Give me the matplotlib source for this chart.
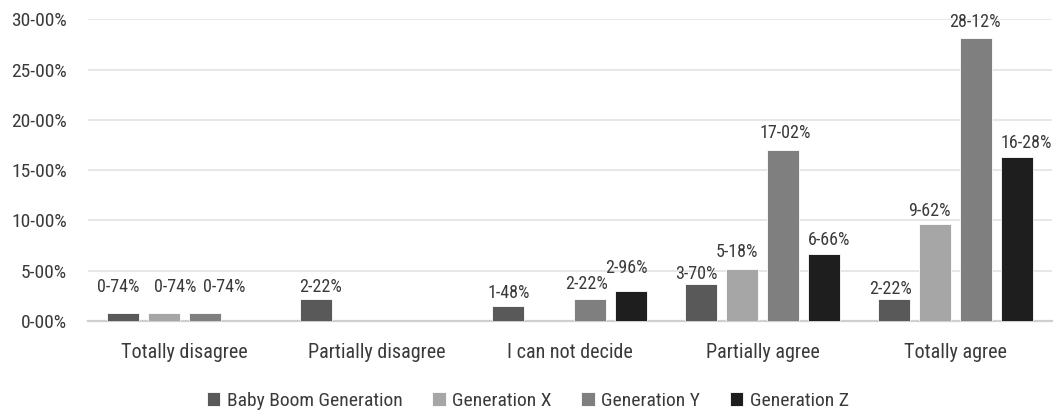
import numpy as np
import matplotlib
matplotlib.use("Agg")
import matplotlib.pyplot as plt
from matplotlib import font_manager

# data (percent of respondents)
categories = ["Totally disagree", "Partially disagree", "I can not decide",
              "Partially agree", "Totally agree"]
series_names = ["Baby Boom Generation", "Generation X", "Generation Y", "Generation Z"]
baby_boom = [0.74, 2.22, 1.48, 3.70, 2.22]
gen_x = [0.74, None, None, 5.18, 9.62]
gen_y = [0.74, None, 2.22, 17.02, 28.12]
gen_z = [None, None, 2.96, 6.66, 16.28]
y_ticks = [0, 5, 10, 15, 20, 25, 30]

colors = ["#595959", "#a6a6a6", "#7f7f7f", "#1e1e1e"]
text_color = "#3a3a3a"

# label nudges in pixels (dx, height of label centre above bar top)
label_nudge = {
    (0, 0): (-5, 26), (0, 1): (11, 26), (0, 2): (19, 26),
    (1, 0): (5, 12),
    (2, 0): (1, 13), (2, 2): (-4, 15), (2, 3): (-5, 23),
    (3, 0): (-5, 10), (3, 1): (-5, 17), (3, 2): (2, 17), (3, 3): (5, 14),
    (4, 0): (-3, 10), (4, 1): (-5, 13), (4, 2): (-1, 16), (4, 3): (10, 14),
}


def pick_font():
    names = {f.name for f in font_manager.fontManager.ttflist}
    for name in ["Roboto Condensed", "Liberation Sans Narrow", "Roboto"]:
        if name in names:
            return name
    return "DejaVu Sans"


def fmt(v):
    return f"{v:.2f}%".replace(".", "-")


def main():
    plt.rcParams["font.family"] = [pick_font(), "DejaVu Sans"]

    fig = plt.figure(figsize=(10.59, 4.13), dpi=100)
    ax = fig.add_axes([0.083, 0.223, 0.910, 0.730])

    all_series = [baby_boom, gen_x, gen_y, gen_z]
    x = np.arange(len(categories))
    pitch = 0.2127
    width = 0.166
    px2pt = 72 / 100

    for i, (name, vals, col) in enumerate(zip(series_names, all_series, colors)):
        v = np.array([np.nan if a is None else a for a in vals], dtype=float)
        pos = x + (i - 1.5) * pitch
        ax.bar(pos, np.nan_to_num(v), width, color=col, label=name,
               edgecolor="white", linewidth=0.6, zorder=3)
        for j, val in enumerate(v):
            if np.isnan(val):
                continue
            dx, dy = label_nudge.get((j, i), (0, 14))
            ax.annotate(fmt(val), (pos[j], val),
                        xytext=(dx * px2pt, dy * px2pt), textcoords="offset points",
                        ha="center", va="center", fontsize=13, color=text_color)

    ax.set_xlim(-0.5, len(categories) - 0.5)
    ax.set_ylim(0, 30)
    ax.set_yticks(y_ticks)
    ax.set_yticklabels([fmt(t) for t in y_ticks], fontsize=14, color=text_color)
    ax.set_xticks(x)
    ax.set_xticklabels(categories, fontsize=14.5, color=text_color)
    ax.tick_params(axis="both", length=0)
    ax.tick_params(axis="x", pad=16)
    ax.tick_params(axis="y", pad=15)

    ax.grid(axis="y", color="#e3e3e3", linewidth=1.2, zorder=0)
    for side in ["top", "right", "left"]:
        ax.spines[side].set_visible(False)
    ax.spines["bottom"].set_color("#cfcfcf")
    ax.spines["bottom"].set_linewidth(1.6)

    fig.legend(loc="center", bbox_to_anchor=(0.4985, 0.03), ncol=4, frameon=False,
               fontsize=14, handlelength=0.7, handleheight=0.7, handletextpad=0.35,
               columnspacing=1.5, labelcolor=text_color)

    fig.savefig("out.png", dpi=100)


main()
